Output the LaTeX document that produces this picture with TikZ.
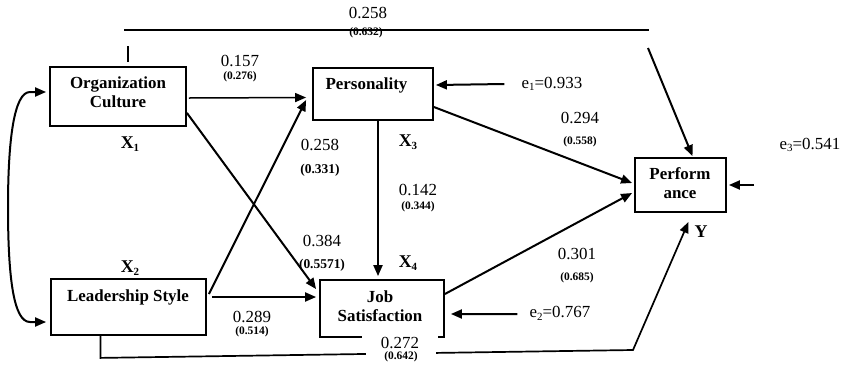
\documentclass[tikz,border=0pt]{standalone}
\usepackage{fontspec}
\setmainfont{Liberation Serif}
\usetikzlibrary{arrows.meta,calc}
\newcommand\lowsub[1]{\raisebox{-0.35ex}{\fontsize{11}{11}\selectfont #1}}
\begin{document}
\begin{tikzpicture}[x=1bp,y=-1bp,
  box/.style={draw,line width=1.8bp,inner sep=0pt},
  boxtxt/.style={font=\bfseries\fontsize{17}{19}\selectfont,align=center,inner sep=0pt},
  coef/.style={font=\fontsize{17}{17}\selectfont,inner sep=0pt},
  se/.style={font=\bfseries\fontsize{11.5}{12}\selectfont,inner sep=0pt},
  sebig/.style={font=\bfseries\fontsize{13.5}{14}\selectfont,inner sep=0pt},
  lab/.style={font=\bfseries\fontsize{18}{18}\selectfont,inner sep=0pt},
  tip/.tip={Triangle[length=11bp,width=9bp]},
  arr/.style={line width=2bp,-tip}]
\useasboundingbox (0,0) rectangle (843,365);

% boxes
\node[box,minimum width=136bp,minimum height=59bp] (oc) at (118,96.5) {};
\node[box,minimum width=120bp,minimum height=52bp] (pers) at (373,94) {};
\node[box,minimum width=155bp,minimum height=56bp] (ls) at (128.5,307) {};
\node[box,minimum width=124bp,minimum height=57bp] (job) at (382,308.5) {};
\node[box,minimum width=91bp,minimum height=54bp] (perf) at (680.5,185) {};

\node[boxtxt] (toc) at (118,92.5) {Organization\\Culture};
\node[boxtxt] (tpers) at (366.5,85.5) {Personality};
\node[boxtxt] (tls) at (128,297) {Leadership Style};
\node[boxtxt] (tjob) at (380,306) {Job\\Satisfaction};
\node[boxtxt] (tperf) at (680,183) {Perform\\ance};

% connectors
\draw[arr,line width=1.5bp] ($(oc.east)+(2,1.5)$) -- ($(pers.west)+(-6,3.5)$);
\draw[arr] ($(oc.south east)+(0,-14)$) -- ($(job.north west)+(-3,10)$);
\draw[arr] ($(ls.east)+(2,-13)$) -- ($(pers.west)+(-6,6)$);
\draw[arr] ($(ls.east)+(5,-10)$) -- ($(job.west)+(-3,-11.5)$);
\draw[arr] ($(pers.south)+(5,0)$) -- ($(job.north)+(-4,-3)$);
\draw[arr] ($(pers.east)+(0,13)$) -- ($(perf.west)+(-2,-2)$);
\draw[arr] ($(job.east)+(0,-14.5)$) -- ($(perf.west)+(-2,8)$);

% error terms
\node[coef] (e1) at (552,84) {e\lowsub{1}=0.933};
\draw[arr] ($(e1.west)+(-17,0)$) -- ($(pers.east)+(2,-9)$);
\node[coef] (e2) at (560,313) {e\lowsub{2}=0.767};
\draw[arr] ($(e2.west)+(-12,1)$) -- ($(job.east)+(6,5.5)$);
\node[coef] (e3) at (810,145) {e\lowsub{3}=0.541};
\coordinate (e3s) at (754,185);
\draw[arr] (e3s) -- ($(perf.east)+(2,0)$);

% top path
\coordinate (t1) at (124,30);
\coordinate (t2) at (649,30);
\coordinate (t3) at (648,48);
\draw[line width=1.4bp] (t1) -- (t2);
\draw[line width=1.6bp] ($(oc.north)+(10,-4)$) -- ($(oc.north)+(10,-20)$);
\draw[arr] (t3) -- ($(perf.north)+(12,-1)$);

% bottom path
\coordinate (b1) at (633,350);
\draw[arr,line width=1.7bp] ($(ls.south)+(-28,0)$) -- ++(0,22) -- (b1) -- ($(perf.south)+(8,9)$);

% correlation
\draw[line width=2bp,tip-tip] ($(oc.west)+(-3,-4.5)$) -- (30,92)
  .. controls (14,92) and (8,140) .. (8,207)
  .. controls (8,280) and (14,322) .. (30,322) -- ($(ls.west)+(-4,15)$);

% coefficients
\node[coef] (c258a) at (368,13) {0.258};
\node[se] (s632) at (366,33) {(0.632)};
\node[coef] (c157) at (240,61) {0.157};
\node[se] (s276) at (240,77) {(0.276)};
\node[coef] (c258b) at (320,145) {0.258};
\node[sebig] (s331) at (320,170) {(0.331)};
\node[coef] (c142) at (418,190) {0.142};
\node[se] (s344) at (418,207) {(0.344)};
\node[coef] (c384) at (322,241) {0.384};
\node[sebig] (s5571) at (322,265) {(0.5571)};
\node[coef] (c289) at (252,317) {0.289};
\node[se] (s514) at (252,332) {(0.514)};
\node[coef,fill=white,inner xsep=19bp,inner ysep=2bp] (c272) at (400,343) {0.272};
\node[se,fill=white,inner xsep=18bp,inner ysep=1bp] (s642) at (401,357) {(0.642)};
\node[coef] (c294) at (580,118) {0.294};
\node[se] (s558) at (580,142) {(0.558)};
\node[coef] (c301) at (577,254) {0.301};
\node[se] (s685) at (577,278) {(0.685)};

% variable labels
\node[lab] (x1) at (130,144) {X\lowsub{1}};
\node[lab] (x2) at (130,268) {X\lowsub{2}};
\node[lab] (x3) at (408,142) {X\lowsub{3}};
\node[lab] (x4) at (408,263) {X\lowsub{4}};
\node[lab] (y) at (701,232) {Y};
\end{tikzpicture}
\end{document}
